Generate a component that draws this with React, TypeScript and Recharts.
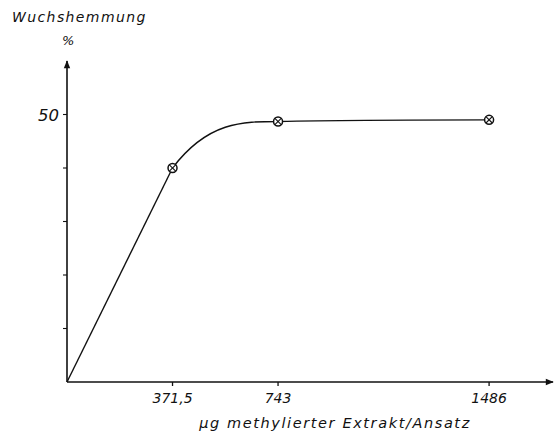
import React from 'react';
import { LineChart, Line, XAxis, YAxis, Label } from 'recharts';

// Wachstumshemmung gegen Menge des methylierten Extrakts
const dose = [0, 371.5, 743, 1486];
const inhibition = [0, 40, 48.7, 49];
const xTicks = [371.5, 743, 1486];
const yTicks = [10, 20, 30, 40, 50];
const yLabelled = [50];

// straight rise to the first point, then a bend into the plateau
const rise = dose.slice(0, 2).map((d, i) => ({ dose: d, value: inhibition[i] }));
const plateau = dose.slice(1).map((d, i) => ({ dose: d, value: inhibition[i + 1] }));

const FONT = '"DejaVu Sans", Verdana, sans-serif';

// d3-style curve: each segment leaves steeply and arrives flat (cubic ease-out)
const easeOutCurve = (context: any) => {
  let px = 0;
  let n = 0;
  return {
    areaStart() {},
    areaEnd() {},
    lineStart() {
      n = 0;
    },
    lineEnd() {},
    point(x: number, y: number) {
      x = +x;
      y = +y;
      if (n === 0) context.moveTo(x, y);
      else {
        const h = x - px;
        context.bezierCurveTo(px + h / 3, y, px + (2 * h) / 3, y, x, y);
      }
      px = x;
      n++;
    },
  };
};

// circle with a cross
const CrossDot = (props: any) => {
  const { cx, cy, index } = props;
  if (cx == null) return null;
  const r = 4.5;
  const k = r * 0.7;
  return (
    <g key={`dot-${index}`}>
      <circle cx={cx} cy={cy} r={r} fill="#fff" stroke="#111" strokeWidth={1.5} />
      <line x1={cx - k} y1={cy - k} x2={cx + k} y2={cy + k} stroke="#111" strokeWidth={1.1} />
      <line x1={cx - k} y1={cy + k} x2={cx + k} y2={cy - k} stroke="#111" strokeWidth={1.1} />
    </g>
  );
};

const YTick = (props: any) => {
  const { x, y, payload } = props;
  if (!yLabelled.includes(payload.value)) return null;
  return (
    <text x={x - 2} y={y + 6} textAnchor="end" fontSize={16.5} fontStyle="italic" fontFamily={FONT} fill="#111">
      {payload.value}
    </text>
  );
};

const XTick = (props: any) => {
  const { x, y, payload } = props;
  return (
    <text x={x} y={y + 15} textAnchor="middle" fontSize={14} fontStyle="italic" fontFamily={FONT} fill="#111">
      {String(payload.value).replace('.', ',')}
    </text>
  );
};

const XTitle = (props: any) => {
  const { viewBox } = props;
  return (
    <text
      x={viewBox.x + viewBox.width / 2 + 25}
      y={viewBox.y + 46}
      textAnchor="middle"
      fontSize={14.5}
      letterSpacing={1.6}
      fontStyle="italic"
      fontFamily={FONT}
      fill="#111"
    >
      µg methylierter Extrakt/Ansatz
    </text>
  );
};

const App = () => {
  return (
    <div style={{ position: 'absolute', left: 0, top: 0, width: 557, height: 439, background: '#fff' }}>
      <svg width={0} height={0} style={{ position: 'absolute' }}>
        <defs>
          <marker id="arrowHead" viewBox="0 0 10 10" refX="9" refY="5" markerWidth="10" markerHeight="8"
            markerUnits="userSpaceOnUse" orient="auto-start-reverse">
            <path d="M0,1 L10,5 L0,9 z" fill="#111" />
          </marker>
        </defs>
      </svg>
      <div style={{ position: 'absolute', left: 12, top: 9, fontFamily: FONT, fontStyle: 'italic', fontSize: 14, letterSpacing: 1.4, color: '#111', lineHeight: '16px' }}>
        Wuchshemmung
      </div>
      <div style={{ position: 'absolute', left: 62, top: 33, fontFamily: FONT, fontStyle: 'italic', fontSize: 13, color: '#111', lineHeight: '15px' }}>
        %
      </div>
      <LineChart width={557} height={439} margin={{ top: 61, right: 4, bottom: 27, left: 7 }}>
        <XAxis
          dataKey="dose"
          type="number"
          domain={[0, 1711]}
          ticks={xTicks}
          interval={0}
          tickSize={4}
          tick={<XTick />}
          tickLine={{ stroke: '#111', strokeWidth: 1.3 }}
          axisLine={{ stroke: '#111', strokeWidth: 1.6, markerEnd: 'url(#arrowHead)' }}
          height={30}
          allowDuplicatedCategory={false}
        >
          <Label content={<XTitle />} />
        </XAxis>
        <YAxis
          type="number"
          domain={[0, 60]}
          ticks={yTicks}
          interval={0}
          tickSize={4}
          tick={<YTick />}
          tickLine={{ stroke: '#111', strokeWidth: 1.1 }}
          axisLine={{ stroke: '#111', strokeWidth: 1.6, markerStart: 'url(#arrowHead)' }}
          width={60}
        />
        <Line
          data={rise}
          type="linear"
          dataKey="value"
          stroke="#111"
          strokeWidth={1.4}
          dot={false}
          activeDot={false}
          isAnimationActive={false}
        />
        <Line
          data={plateau}
          type={easeOutCurve as any}
          dataKey="value"
          stroke="#111"
          strokeWidth={1.4}
          dot={<CrossDot />}
          activeDot={false}
          isAnimationActive={false}
        />
      </LineChart>
    </div>
  );
};

export default App;
